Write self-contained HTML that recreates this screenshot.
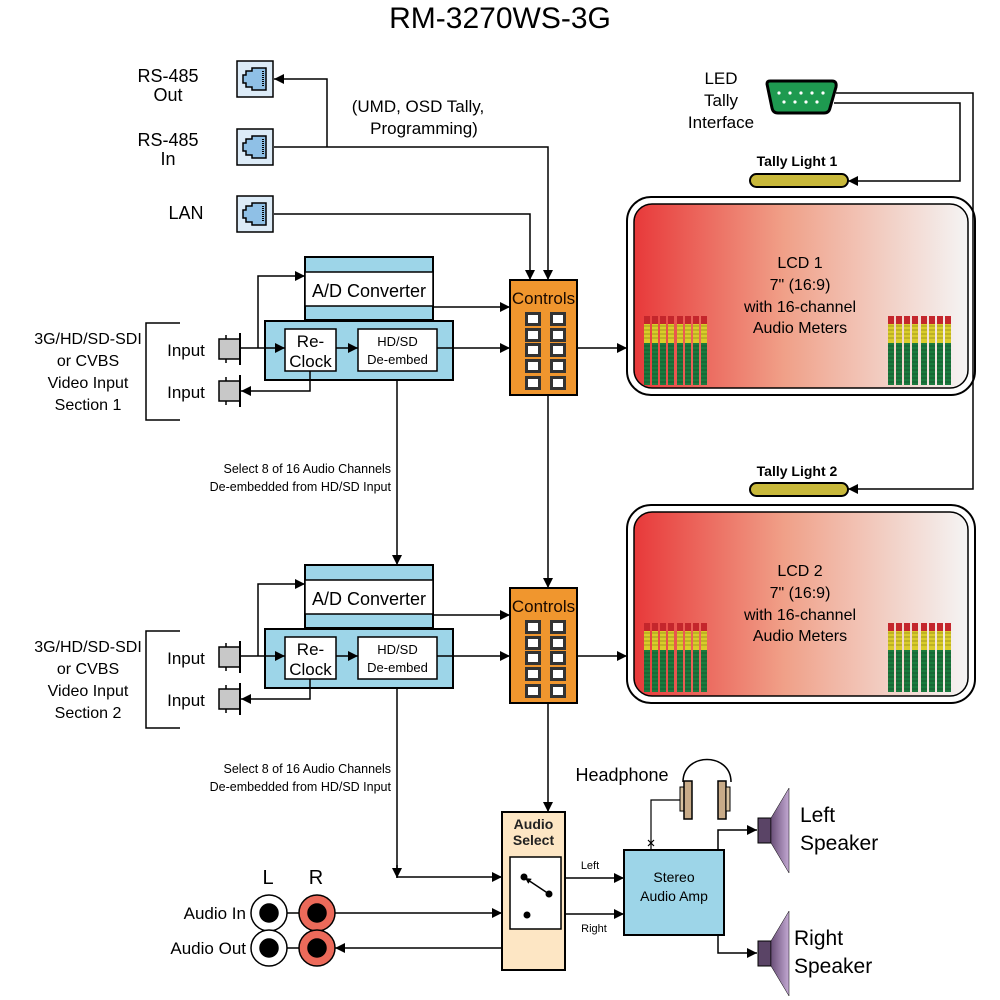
<!DOCTYPE html>
<html><head><meta charset="utf-8"><style>
html,body{margin:0;padding:0;background:#fff;}
svg{display:block;font-family:"Liberation Sans",sans-serif;}
</style></head><body>
<svg width="1000" height="1000" viewBox="0 0 1000 1000" xmlns="http://www.w3.org/2000/svg">
<defs>
<marker id="a" viewBox="0 0 10 10" refX="10" refY="5" markerWidth="6" markerHeight="6" orient="auto-start-reverse" markerUnits="userSpaceOnUse"><path d="M0,0 L10,5 L0,10 z" fill="#000"/></marker>
<marker id="ab" viewBox="0 0 10 10" refX="10" refY="5" markerWidth="14" markerHeight="10" orient="auto-start-reverse" markerUnits="userSpaceOnUse"><path d="M0,0 L10,5 L0,10 z" fill="#000"/></marker>
<linearGradient id="lcd" x1="0" x2="1" y1="0" y2="0"><stop offset="0" stop-color="#e8393a"/><stop offset="0.45" stop-color="#f0a088"/><stop offset="1" stop-color="#f4f4f4"/></linearGradient>
<linearGradient id="spk" x1="0" x2="1"><stop offset="0" stop-color="#6a4f78"/><stop offset="1" stop-color="#c2a8d2"/></linearGradient>
<g id="rj">
<rect x="0" y="0" width="36" height="36" fill="#dcebf7" stroke="#000" stroke-width="1.5"/>
<path d="M9,10 h6 v-3 h14 v22 h-14 v-3 h-6 v-4 h-3 v-8 h3 z" fill="#8fc0e6" stroke="#000" stroke-width="1.5"/>
<path d="M26,10 v16" stroke="#000" stroke-width="2" stroke-dasharray="1,1"/>
</g>
<g id="bnc">
<rect x="0" y="-10" width="21" height="20" fill="#c8c8c8" stroke="#000" stroke-width="1.5"/>
<line x1="21" y1="-16" x2="21" y2="16" stroke="#000" stroke-width="2"/>
<line x1="7" y1="-14" x2="7" y2="-10" stroke="#000" stroke-width="1.5"/>
<line x1="7" y1="10" x2="7" y2="14" stroke="#000" stroke-width="1.5"/>
</g>
<g id="btn"><rect x="0" y="0" width="16" height="14" fill="#333"/><rect x="3" y="3" width="10" height="8" fill="#fff"/></g>
<g id="ctl">
<rect x="510" y="0" width="67" height="115" fill="#f0962e" stroke="#000" stroke-width="2"/>
<text x="543.5" y="24" font-size="17" text-anchor="middle" fill="#1a0a00">Controls</text>
<use href="#btn" x="525" y="32"/><use href="#btn" x="550" y="32"/>
<use href="#btn" x="525" y="48"/><use href="#btn" x="550" y="48"/>
<use href="#btn" x="525" y="63"/><use href="#btn" x="550" y="63"/>
<use href="#btn" x="525" y="79"/><use href="#btn" x="550" y="79"/>
<use href="#btn" x="525" y="96"/><use href="#btn" x="550" y="96"/>
</g>
<g id="mtr">
<rect x="0" y="0" width="6" height="8" fill="#c4262c"/>
<rect x="0" y="8" width="6" height="19" fill="#d9cc2a"/>
<rect x="0" y="27" width="6" height="42" fill="#1b7a3e"/>
<path d="M0,10 h6 M0,14 h6 M0,18 h6 M0,22 h6 M0,30 h6 M0,34 h6 M0,38 h6 M0,42 h6 M0,46 h6 M0,50 h6 M0,54 h6 M0,58 h6 M0,62 h6 M0,66 h6" stroke="#000" stroke-opacity="0.25" stroke-width="1"/>
</g>
<g id="mgrp">
<use href="#mtr" x="0"/><use href="#mtr" x="8"/><use href="#mtr" x="16"/><use href="#mtr" x="24"/>
<use href="#mtr" x="33"/><use href="#mtr" x="41"/><use href="#mtr" x="49"/><use href="#mtr" x="57"/>
</g>
<g id="sect">
<!-- A/D converter -->
<rect x="305" y="0" width="128" height="63" fill="#9dd5e8" stroke="#000" stroke-width="2"/>
<rect x="305" y="15" width="128" height="34" fill="#fff" stroke="#000" stroke-width="1.5"/>
<text x="369" y="40" font-size="18" text-anchor="middle">A/D Converter</text>
<rect x="265" y="64" width="188" height="59" fill="#9dd5e8" stroke="#000" stroke-width="2"/>
<rect x="285" y="72" width="51" height="42" fill="#fff" stroke="#000" stroke-width="1.5"/>
<text x="310.5" y="90" font-size="17" text-anchor="middle">Re-</text>
<text x="310.5" y="110" font-size="17" text-anchor="middle">Clock</text>
<rect x="358" y="72" width="79" height="42" fill="#fff" stroke="#000" stroke-width="1.5"/>
<text x="397.5" y="89" font-size="13" text-anchor="middle">HD/SD</text>
<text x="397.5" y="107" font-size="13" text-anchor="middle">De-embed</text>
<use href="#bnc" x="219" y="92"/>
<use href="#bnc" x="219" y="134"/>
<text x="186" y="99" font-size="17" text-anchor="middle">Input</text>
<text x="186" y="141" font-size="17" text-anchor="middle">Input</text>
<path d="M240,91 H285" stroke="#000" stroke-width="1.5" fill="none" marker-end="url(#ab)"/>
<path d="M258,91 V19 H305" stroke="#000" stroke-width="1.5" fill="none" marker-end="url(#ab)"/>
<path d="M310,114 V134 H241" stroke="#000" stroke-width="1.5" fill="none" marker-end="url(#ab)"/>
<path d="M336,91 H358" stroke="#000" stroke-width="1.5" fill="none" marker-end="url(#ab)"/>
<path d="M437,91 H510" stroke="#000" stroke-width="1.5" fill="none" marker-end="url(#ab)"/>
<path d="M433,50 H510" stroke="#000" stroke-width="1.5" fill="none" marker-end="url(#ab)"/>
<path d="M180,66 H146 V163 H180" stroke="#000" stroke-width="1.5" fill="none"/>
</g>
</defs>

<text x="500" y="28" font-size="30" text-anchor="middle">RM-3270WS-3G</text>

<!-- top connectors -->
<text x="168" y="82" font-size="18" text-anchor="middle">RS-485</text>
<text x="168" y="101" font-size="18" text-anchor="middle">Out</text>
<text x="168" y="146" font-size="18" text-anchor="middle">RS-485</text>
<text x="168" y="165" font-size="18" text-anchor="middle">In</text>
<text x="186" y="219" font-size="18" text-anchor="middle">LAN</text>
<use href="#rj" x="237" y="61"/>
<use href="#rj" x="237" y="129"/>
<use href="#rj" x="237" y="196"/>
<text x="418" y="112" font-size="17" text-anchor="middle">(UMD, OSD Tally,</text>
<text x="424" y="134" font-size="17" text-anchor="middle">Programming)</text>
<path d="M274,147 H548 V280" stroke="#000" stroke-width="1.5" fill="none" marker-end="url(#ab)"/>
<path d="M327,147 V79 H274" stroke="#000" stroke-width="1.5" fill="none" marker-end="url(#ab)"/>
<path d="M274,214 H530 V280" stroke="#000" stroke-width="1.5" fill="none" marker-end="url(#ab)"/>

<!-- sections -->
<use href="#sect" x="0" y="257"/>
<use href="#sect" x="0" y="565"/>
<use href="#ctl" x="0" y="280"/>
<use href="#ctl" x="0" y="588"/>
<g font-size="16" text-anchor="middle">
<text x="88" y="344">3G/HD/SD-SDI</text><text x="88" y="366">or CVBS</text><text x="88" y="388">Video Input</text><text x="88" y="410">Section 1</text>
<text x="88" y="652">3G/HD/SD-SDI</text><text x="88" y="674">or CVBS</text><text x="88" y="696">Video Input</text><text x="88" y="718">Section 2</text>
</g>
<g font-size="12.5" text-anchor="end">
<text x="391" y="473">Select 8 of 16  Audio Channels</text>
<text x="391" y="491">De-embedded from HD/SD Input</text>
<text x="391" y="773">Select 8 of 16  Audio Channels</text>
<text x="391" y="791">De-embedded from HD/SD Input</text>
</g>
<path d="M397,380 V565" stroke="#000" stroke-width="1.5" fill="none" marker-end="url(#ab)"/>
<path d="M548,395 V588" stroke="#000" stroke-width="1.5" fill="none" marker-end="url(#ab)"/>
<path d="M577,348 H627" stroke="#000" stroke-width="1.5" fill="none" marker-end="url(#ab)"/>
<path d="M577,656 H627" stroke="#000" stroke-width="1.5" fill="none" marker-end="url(#ab)"/>
<path d="M397,688 V877 H502" stroke="#000" stroke-width="1.5" fill="none" marker-end="url(#ab)"/>
<path d="M397,865 V878" stroke="#000" stroke-width="1.5" fill="none" marker-end="url(#ab)"/>
<path d="M548,703 V812" stroke="#000" stroke-width="1.5" fill="none" marker-end="url(#ab)"/>

<!-- LCD 1 -->
<rect x="627" y="197" width="348" height="198" rx="24" fill="#fff" stroke="#000" stroke-width="2"/>
<rect x="634" y="204" width="334" height="184" rx="18" fill="url(#lcd)" stroke="#000" stroke-width="1.5"/>
<g font-size="16" text-anchor="middle">
<text x="800" y="268">LCD 1</text><text x="800" y="290">7" (16:9)</text><text x="800" y="312">with 16-channel</text><text x="800" y="333">Audio Meters</text>
</g>
<use href="#mgrp" x="644" y="316"/>
<use href="#mgrp" x="888" y="316"/>
<!-- LCD 2 -->
<rect x="627" y="505" width="348" height="198" rx="24" fill="#fff" stroke="#000" stroke-width="2"/>
<rect x="634" y="512" width="334" height="184" rx="18" fill="url(#lcd)" stroke="#000" stroke-width="1.5"/>
<g font-size="16" text-anchor="middle">
<text x="800" y="576">LCD 2</text><text x="800" y="598">7" (16:9)</text><text x="800" y="620">with 16-channel</text><text x="800" y="641">Audio Meters</text>
</g>
<use href="#mgrp" x="644" y="623"/>
<use href="#mgrp" x="888" y="623"/>

<!-- tally -->
<g font-size="17" text-anchor="middle">
<text x="721" y="84">LED</text><text x="721" y="106">Tally</text><text x="721" y="128">Interface</text>
</g>
<path d="M767,84 Q767,81 770,81 H832 Q837,81 836,87 L830,108 Q829,113 824,113 H778 Q773,113 772,108 Z" fill="#1e9a50" stroke="#000" stroke-width="3"/>
<g fill="#fff"><circle cx="779" cy="93" r="1.6"/><circle cx="790" cy="93" r="1.6"/><circle cx="801" cy="93" r="1.6"/><circle cx="812" cy="93" r="1.6"/><circle cx="823" cy="93" r="1.6"/>
<circle cx="784" cy="102" r="1.6"/><circle cx="795" cy="102" r="1.6"/><circle cx="806" cy="102" r="1.6"/><circle cx="817" cy="102" r="1.6"/></g>
<path d="M836,93 H973 V489 H848" stroke="#000" stroke-width="1.5" fill="none" marker-end="url(#ab)"/>
<path d="M834,103 H960 V181 H848" stroke="#000" stroke-width="1.5" fill="none" marker-end="url(#ab)"/>
<text x="797" y="166" font-size="14" text-anchor="middle" font-weight="bold">Tally Light 1</text>
<rect x="750" y="174" width="98" height="13" rx="6.5" fill="#c8b83a" stroke="#000" stroke-width="2"/>
<text x="797" y="476" font-size="14" text-anchor="middle" font-weight="bold">Tally Light 2</text>
<rect x="750" y="483" width="98" height="13" rx="6.5" fill="#c8b83a" stroke="#000" stroke-width="2"/>

<!-- audio select -->
<rect x="502" y="812" width="63" height="158" fill="#fde6c4" stroke="#000" stroke-width="2"/>
<text x="533.5" y="829" font-size="14" text-anchor="middle" font-weight="bold" fill="#222">Audio</text>
<text x="533.5" y="845" font-size="14" text-anchor="middle" font-weight="bold" fill="#222">Select</text>
<rect x="510" y="857" width="51" height="72" fill="#fff" stroke="#000" stroke-width="1.5"/>
<circle cx="524" cy="877" r="3.5"/><circle cx="549" cy="894" r="3.5"/><circle cx="527" cy="915" r="3.5"/>
<path d="M549,894 L525,878" stroke="#000" stroke-width="1.5" marker-end="url(#a)"/>

<!-- RCA jacks -->
<text x="268" y="884" font-size="20" text-anchor="middle">L</text>
<text x="316" y="884" font-size="20" text-anchor="middle">R</text>
<text x="246" y="919" font-size="17" text-anchor="end">Audio In</text>
<text x="246" y="954" font-size="17" text-anchor="end">Audio Out</text>
<line x1="270" y1="913" x2="319" y2="913" stroke="#000" stroke-width="1.5"/>
<line x1="270" y1="948" x2="319" y2="948" stroke="#000" stroke-width="1.5"/>
<g stroke="#000" stroke-width="1.5">
<circle cx="269" cy="913" r="18" fill="#fff"/><circle cx="269" cy="913" r="9" fill="#000"/>
<circle cx="269" cy="948" r="18" fill="#fff"/><circle cx="269" cy="948" r="9" fill="#000"/>
<circle cx="317" cy="913" r="18" fill="#ec6a5a"/><circle cx="317" cy="913" r="9" fill="#000"/>
<circle cx="317" cy="948" r="18" fill="#ec6a5a"/><circle cx="317" cy="948" r="9" fill="#000"/>
</g>
<path d="M335,913 H502" stroke="#000" stroke-width="1.5" fill="none" marker-end="url(#ab)"/>
<path d="M502,948 H335" stroke="#000" stroke-width="1.5" fill="none" marker-end="url(#ab)"/>

<!-- amp -->
<path d="M565,878 H624" stroke="#000" stroke-width="1.5" fill="none" marker-end="url(#ab)"/>
<path d="M565,914 H624" stroke="#000" stroke-width="1.5" fill="none" marker-end="url(#ab)"/>
<text x="590" y="869" font-size="11" text-anchor="middle">Left</text>
<text x="594" y="932" font-size="11" text-anchor="middle">Right</text>
<rect x="624" y="850" width="100" height="85" fill="#9dd5e8" stroke="#000" stroke-width="2"/>
<text x="674" y="882" font-size="14" text-anchor="middle">Stereo</text>
<text x="674" y="901" font-size="14" text-anchor="middle">Audio Amp</text>

<!-- headphone -->
<text x="622" y="781" font-size="18" text-anchor="middle">Headphone</text>
<path d="M683,782 C683,752 731,752 731,782" stroke="#000" stroke-width="1.5" fill="none"/>
<rect x="680" y="787" width="4" height="24" fill="#d8c2a0" stroke="#000"/>
<rect x="684" y="781" width="8" height="38" fill="#c8ab88" stroke="#000" stroke-width="1.5"/>
<rect x="718" y="781" width="8" height="38" fill="#c8ab88" stroke="#000" stroke-width="1.5"/>
<rect x="726" y="787" width="4" height="24" fill="#d8c2a0" stroke="#000"/>
<path d="M680,800 H651 V850" stroke="#000" stroke-width="1.2" fill="none"/>
<path d="M648,840 L654,846 M654,840 L648,846" stroke="#000" stroke-width="1.2"/>

<!-- speakers -->
<path d="M718,850 V830 H757" stroke="#000" stroke-width="1.5" fill="none" marker-end="url(#ab)"/>
<path d="M718,935 V953 H757" stroke="#000" stroke-width="1.5" fill="none" marker-end="url(#ab)"/>
<rect x="758" y="818" width="13" height="25" fill="#5a4466" stroke="#000"/>
<path d="M771,818 L789,788 V873 L771,843 Z" fill="url(#spk)" stroke="#000" stroke-width="0.5"/>
<rect x="758" y="941" width="13" height="25" fill="#5a4466" stroke="#000"/>
<path d="M771,941 L789,911 V996 L771,966 Z" fill="url(#spk)" stroke="#000" stroke-width="0.5"/>
<text x="800" y="822" font-size="21">Left</text>
<text x="800" y="850" font-size="21">Speaker</text>
<text x="794" y="945" font-size="21">Right</text>
<text x="794" y="973" font-size="21">Speaker</text>
</svg>
</body></html>
